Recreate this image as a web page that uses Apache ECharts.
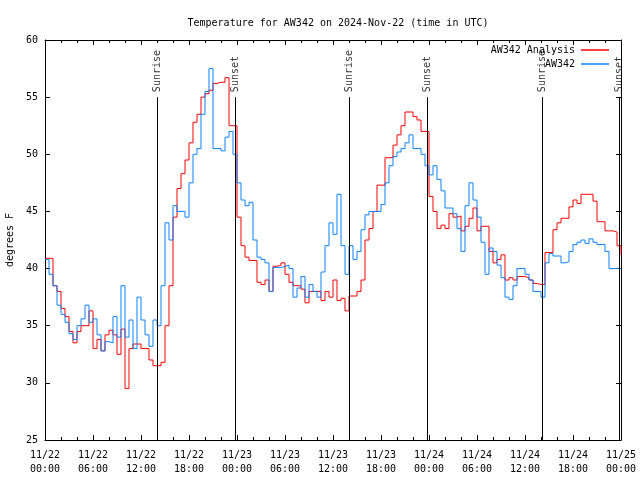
<!DOCTYPE html>
<html><head><meta charset="utf-8">
<script src="https://cdn.jsdelivr.net/npm/echarts@6/dist/echarts.min.js"></script>
<style>html,body{margin:0;padding:0;background:#fff}#c{width:640px;height:480px}</style>
</head><body><div id="c"></div>
<script>
// hours since 2024-11-22 00:00 UTC, one value every half hour
const STEP_HOURS = 0.5;
const analysisValues = [
40.9,40.9,38.5,38,36.5,35.8,34.5,33.5,34.5,35,35,36.3,33,33.8,32.8,34.2,34.6,34.2,32.5,34.7,
29.5,33,33.4,33.4,33,33,32,31.5,31.5,31.8,35,38.5,44.5,47,48.3,49.5,51,52.8,53.5,55,
55.3,55.6,56.2,56.3,56.3,56.7,52.5,52.5,44.5,42,41,40.7,40.7,38.8,38.6,39,38,40.2,40.3,40.5,
39.5,38.8,38.5,38.5,38.2,37,38,38,38,37.2,38,37.5,39,37.2,37.4,36.3,37.6,37.6,38,39,
42.5,43.5,45,47.3,47.3,49.7,49.7,50.8,51.7,52.5,53.7,53.7,53.3,53,52,52,46.3,45,43.5,43.8,
43.5,44.8,44.5,44.6,43.3,43.7,44.4,45.3,43.3,43.7,43.7,41.5,40.5,40.8,41.2,39,39.2,39,39.3,39.3,
39.2,39,38.7,38.6,38.6,41.4,41.4,43.4,44,44.4,44.4,45.4,46,45.7,46.5,46.5,46.5,45.9,44.1,44.1,
43.3,43.3,43.2,42,41.2
];
const stationValues = [
40.8,39.5,38.5,36.8,36,35.3,34.3,33.8,35,35.6,36.8,35.3,35.6,34.2,32.8,33.6,33.5,35.8,34,38.5,
34,35.5,33,37.5,35.5,34.2,33.2,35.5,35,38.5,44,42.5,45.5,45,45,44.5,47.5,50,50.5,53.5,
55.5,57.5,50.5,50.5,50.3,51.5,52,50,47.5,46,45.5,45.8,42.5,41,40.8,40.5,38,40.1,40.1,40.2,
40.3,40,37.5,38.3,39.3,37.5,38.6,38,37.5,39.7,42,44,43,46.5,42,39.5,42,40.8,41.5,43.4,
44.7,45,45,45,45.6,47.5,49,49.8,50.2,50.5,51,51.7,50.5,50.5,50,49,48.2,49,47.8,46.8,
45.3,45.3,44.8,43.5,41.5,45.5,47.5,46,44.5,42.3,39.5,41.8,41.5,40.3,39.2,37.5,37.3,38.5,40,40,
39.5,39,38,38,37.5,40.5,41.3,41.1,41.1,40.5,40.6,41.5,42.1,42.3,42.5,42.2,42.6,42.3,42.1,42.1,
41.5,40,40,40,40
];
const sunTimes = [14.0, 23.83, 38.05, 47.84, 62.15, 71.78];
const sunNames = ['Sunrise','Sunset','Sunrise','Sunset','Sunrise','Sunset'];
const xTickLabels = ['11/22\n00:00','11/22\n06:00','11/22\n12:00','11/22\n18:00','11/23\n00:00','11/23\n06:00',
  '11/23\n12:00','11/23\n18:00','11/24\n00:00','11/24\n06:00','11/24\n12:00','11/24\n18:00','11/25\n00:00'];
const seriesNames = ['AW342 Analysis','AW342'];

const FONT = 'DejaVu Sans Mono';
const chart = echarts.init(document.getElementById('c'), null, {renderer:'canvas'});
const toPairs = vals => vals.map((v,i)=>[i*STEP_HOURS, v]);
const axisBase = {
  type:'value', min:0, max:72, interval:6,
  axisLine:{show:true, onZero:false, lineStyle:{color:'#000', width:1}},
  axisTick:{show:true, inside:true, length:5, lineStyle:{color:'#000'}},
  minorTick:{show:true, splitNumber:3, length:3, lineStyle:{color:'#000'}},
  splitLine:{show:false}, minorSplitLine:{show:false}
};
const yBase = {
  type:'value', min:25, max:60, interval:5,
  axisLine:{show:true, onZero:false, lineStyle:{color:'#000', width:1}},
  axisTick:{show:true, inside:true, length:5, lineStyle:{color:'#000'}},
  splitLine:{show:false}
};
chart.setOption({
  animation:false,
  backgroundColor:'#fff',
  title:{text:'Temperature for AW342 on 2024-Nov-22 (time in UTC)', left:333, textAlign:'center', top:13,
    textStyle:{fontFamily:FONT, fontSize:10, fontWeight:'normal', color:'#000'}},
  legend:[
    {data:[seriesNames[0]], right:31, top:45, orient:'vertical', align:'right', padding:0, itemWidth:28, itemHeight:1.5, itemGap:4,
     icon:'rect', textStyle:{fontFamily:FONT, fontSize:10, color:'#000', padding:[0,1,0,0]}},
    {data:[seriesNames[1]], right:31, top:59, orient:'vertical', align:'right', padding:0, itemWidth:28, itemHeight:1.5, itemGap:4,
     icon:'rect', textStyle:{fontFamily:FONT, fontSize:10, color:'#000', padding:[0,1,0,0]}}
  ],
  grid:{left:45, right:19, top:40, bottom:40, containLabel:false, outerBoundsMode:'none'},
  xAxis:[
    Object.assign({}, axisBase, {position:'bottom',
      axisLabel:{show:true, margin:8, lineHeight:14, fontFamily:FONT, fontSize:10, color:'#000',
        formatter:v=>xTickLabels[Math.round(v/6)]}}),
    Object.assign({}, axisBase, {position:'top', axisLabel:{show:false}})
  ],
  yAxis:[
    Object.assign({}, yBase, {position:'left', name:'degrees F', nameLocation:'middle', nameGap:30, nameRotate:90,
      nameTextStyle:{fontFamily:FONT, fontSize:10, color:'#000'},
      axisLabel:{show:true, margin:7, fontFamily:FONT, fontSize:10, color:'#000'}}),
    Object.assign({}, yBase, {position:'right', axisLabel:{show:false}})
  ],
  series:[
    {name:seriesNames[0], type:'line', step:'end', data:toPairs(analysisValues), showSymbol:false, symbol:'none',
     color:'#ff0000', lineStyle:{width:1, color:'#ff0000'}, z:2,
     markLine:{silent:true, symbol:['none','none'], label:{show:false}, lineStyle:{color:'#000', width:1, type:'solid'},
       data: sunTimes.map(t=>[{coord:[t,25]},{coord:[t,55]}])}},
    {name:seriesNames[1], type:'line', step:'end', data:toPairs(stationValues), showSymbol:false, symbol:'none',
     color:'#0a80ff', lineStyle:{width:1, color:'#0a80ff'}, z:3},
    {name:'sun', type:'scatter', symbolSize:0, silent:true, z:4,
     data: sunTimes.map((t,i)=>({value:[t,55], label:{formatter:sunNames[i]}})),
     label:{show:true, position:[0,-5], rotate:90, align:'left', verticalAlign:'middle',
       fontFamily:FONT, fontSize:10, color:'#000'}}
  ]
});
</script></body></html>
